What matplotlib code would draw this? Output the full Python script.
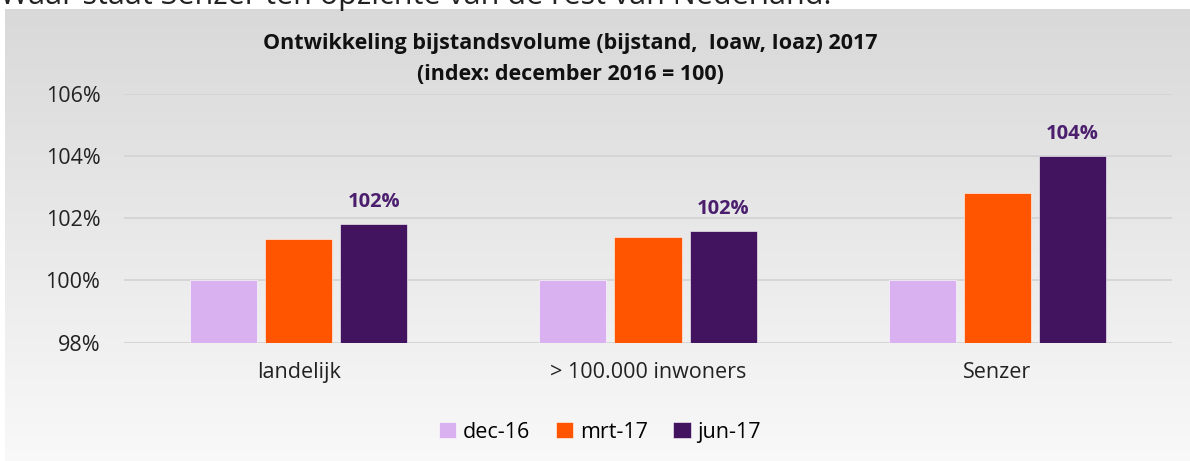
import matplotlib.pyplot as plt
import numpy as np
from matplotlib.ticker import FuncFormatter

categories = ['landelijk', '> 100.000 inwoners', 'Senzer']
series = ['dec-16', 'mrt-17', 'jun-17']
dec16 = [100.0, 100.0, 100.0]
mrt17 = [101.32, 101.39, 102.82]
jun17 = [101.80, 101.58, 104.0]
colors = ['#d9b0f0', '#ff5500', '#42135f']

plt.rcParams['font.family'] = ['Open Sans', 'DejaVu Sans']

fig = plt.figure(figsize=(11.9, 4.61), dpi=100)

# gray gradient panel behind the chart
bg = fig.add_axes([5 / 1190, 0, 1 - 5 / 1190, 1 - 9 / 461], zorder=-10)
grad = np.linspace(0.85, 0.975, 256).reshape(-1, 1)
bg.imshow(np.repeat(grad, 3, axis=1).reshape(256, 3, 1) * np.ones((1, 1, 3)),
          aspect='auto', extent=[0, 1, 0, 1], origin='upper')
bg.set_axis_off()

# sentence above the panel, cut off by the image top as in the original
fig.text(0.0, 1 - 4 / 461, 'Waar staat Senzer ten opzichte van de rest van Nederland.',
         fontsize=22, color='#222222', va='baseline', ha='left')

ax = fig.add_axes([124 / 1190, 1 - 342.7 / 461, (1172 - 124) / 1190, (342.7 - 93.7) / 461])
ax.patch.set_alpha(0)

x = np.arange(len(categories))
w = 0.192
step = 0.215
for i, (vals, lab) in enumerate(zip([dec16, mrt17, jun17], series)):
    ax.bar(x + (i - 1) * step, vals, width=w, color=colors[i], label=lab,
           edgecolor='white', linewidth=0.4, zorder=3)

for xi, v in zip(x, jun17):
    ax.text(xi + step, v + 0.4, f'{v:.0f}%', ha='center', va='bottom',
            fontsize=14.5, fontweight='bold', color='#4b1f6e')

ax.set_xlim(-0.5, 2.5)
ax.set_ylim(98, 106)
ax.set_yticks([98, 100, 102, 104, 106])
ax.yaxis.set_major_formatter(FuncFormatter(lambda v, p: f'{v:.0f}%'))
ax.grid(axis='y', color='#d4d4d4', linewidth=1.3, zorder=0)
ax.set_xticks(x)
ax.set_xticklabels(categories)
ax.tick_params(axis='both', length=0, labelsize=15.5, colors='#222222')
ax.tick_params(axis='y', pad=17)
ax.tick_params(axis='x', pad=14)
for s in ax.spines.values():
    s.set_visible(False)

fig.text(570 / 1190, 1 - 44 / 461, 'Ontwikkeling bijstandsvolume (bijstand,  Ioaw, Ioaz) 2017',
         ha='center', va='center', fontsize=15.5, fontweight='bold', color='#111111')
fig.text(570 / 1190, 1 - 74 / 461, '(index: december 2016 = 100)',
         ha='center', va='center', fontsize=15.5, fontweight='bold', color='#111111')

fig.legend(loc='center', bbox_to_anchor=(600 / 1190, 1 - 432 / 461), ncol=3,
           frameon=False, fontsize=15.5, handlelength=0.8, handleheight=0.8,
           handletextpad=0.3, columnspacing=1.2)

fig.savefig('out.png', dpi=100)
